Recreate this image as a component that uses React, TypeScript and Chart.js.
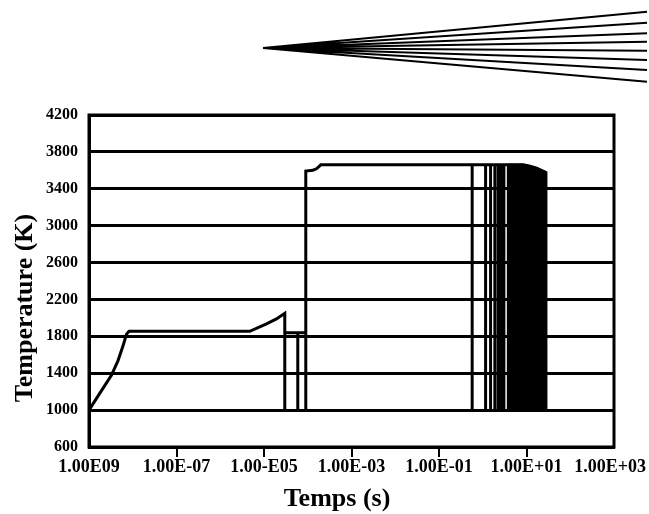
import React, { useEffect, useRef } from 'react';
import { Chart, registerables } from 'chart.js';

Chart.register(...registerables);

// ---- axis ticks ----
const xTickValues = [-9, -7, -5, -3, -1, 1, 3]; // log10(time in s)
const xTickLabels = ['1.00E09', '1.00E-07', '1.00-E05', '1.00E-03', '1.00E-01', '1.00E+01', '1.00E+03'];
const yTickValues = [600, 1000, 1400, 1800, 2200, 2600, 3000, 3400, 3800, 4200];

// ---- data (x = log10 of time in s, y = temperature in K) ----
const baseTemp = 1000;
// heating of the particle and the first plateau up to the peak
const heatLogT = [-9, -8.755, -8.488, -8.337, -8.222, -8.145, -8.085, -5.325, -4.943, -4.715, -4.525];
const heatTemp = [1000, 1181, 1377, 1537, 1697, 1821, 1855, 1855, 1935, 1989, 2049];
// quench drops with short re-heats in between
const quenchLogT = [-4.525, -4.228, -4.045];
const quenchTemp = 1840;
// ignition step
const ignitionLogT = [-4.045, -3.885, -3.793, -3.702];
const ignitionTemp = [3592, 3600, 3620, 3660];
const flameTemp = 3660;
// individual extinction / re-ignition cycles
const cycleLogT = [-0.242, 0.065, 0.179, 0.277, 0.353, 0.415, 0.483];
// dense oscillation band (top envelope)
const denseLogT = [0.545, 0.925, 1.078, 1.231, 1.444];
const denseTemp = [3660, 3660, 3646, 3624, 3578];

// decorative spray fan (end offsets of the lines)
const fanEnds = [11.7, 22.7, 33.3, 41.7, 50.7, 60, 70, 81.7];

const FONT = '"Liberation Serif", "Times New Roman", serif';

function buildMainLine() {
  const pts: { x: number; y: number }[] = [];
  heatLogT.forEach((x, i) => pts.push({ x, y: heatTemp[i] }));
  quenchLogT.forEach((q, i) => {
    pts.push({ x: q, y: baseTemp });
    if (i < quenchLogT.length - 1) {
      pts.push({ x: q, y: quenchTemp });
      pts.push({ x: quenchLogT[i + 1], y: quenchTemp });
    }
  });
  ignitionLogT.forEach((x, i) => pts.push({ x, y: ignitionTemp[i] }));
  cycleLogT.forEach((c) => {
    pts.push({ x: c, y: flameTemp });
    pts.push({ x: c, y: baseTemp });
    pts.push({ x: c, y: flameTemp });
  });
  denseLogT.forEach((x, i) => pts.push({ x, y: denseTemp[i] }));
  pts.push({ x: denseLogT[denseLogT.length - 1], y: baseTemp });
  return pts;
}

const decorPlugin = {
  id: 'decor',
  afterDraw(chart: any) {
    const { ctx, chartArea } = chart;
    const xs = chart.scales.x;
    ctx.save();
    // plot frame
    ctx.strokeStyle = '#000';
    ctx.lineWidth = 3;
    ctx.strokeRect(chartArea.left, chartArea.top, chartArea.right - chartArea.left, chartArea.bottom - chartArea.top);

    // x tick labels
    ctx.fillStyle = '#000';
    ctx.font = `bold 18px ${FONT}`;
    ctx.textAlign = 'center';
    ctx.textBaseline = 'middle';
    xTickValues.forEach((v, i) => {
      const px = xs.getPixelForValue(v);
      const w = ctx.measureText(xTickLabels[i]).width;
      const cx = Math.min(Math.max(px, w / 2 + 2), chart.width - w / 2 - 3);
      ctx.fillText(xTickLabels[i], cx, chartArea.bottom + 20);
    });

    // axis titles
    ctx.font = `bold 26px ${FONT}`;
    ctx.fillText('Temps (s)', 337, 499);
    ctx.save();
    ctx.translate(25, 308);
    ctx.rotate(-Math.PI / 2);
    ctx.fillText('Temperature (K)', 0, 0);
    ctx.restore();

    // spray fan
    ctx.lineWidth = 2;
    ctx.beginPath();
    fanEnds.forEach((ey) => {
      ctx.moveTo(263, 48);
      ctx.lineTo(647, ey);
    });
    ctx.stroke();
    ctx.restore();
  },
};

export default function App() {
  const ref = useRef<HTMLCanvasElement | null>(null);
  useEffect(() => {
    if (!ref.current) return;
    const chart = new Chart(ref.current, {
      type: 'scatter',
      data: {
        datasets: [
          {
            data: denseLogT.map((x, i) => ({ x, y: denseTemp[i] })),
            showLine: true,
            borderColor: '#000',
            backgroundColor: '#000',
            borderWidth: 2,
            pointRadius: 0,
            fill: { value: baseTemp },
          },
          {
            data: buildMainLine(),
            showLine: true,
            borderColor: '#000',
            borderWidth: 3,
            pointRadius: 0,
            fill: false,
          },
        ],
      },
      options: {
        animation: false,
        responsive: false,
        devicePixelRatio: 1,
        layout: { padding: { top: 115, right: 35, left: 0, bottom: 0 } },
        plugins: {
          legend: { display: false },
          tooltip: { enabled: false },
        },
        scales: {
          x: {
            type: 'linear',
            min: -9,
            max: 3,
            afterBuildTicks: (s: any) => {
              s.ticks = xTickValues.map((v) => ({ value: v }));
            },
            ticks: { display: false },
            grid: {
              drawOnChartArea: false,
              drawTicks: true,
              tickLength: 10,
              lineWidth: 2,
              color: (c: any) =>
                c.index === 0 || c.index === xTickValues.length - 1 ? 'rgba(0,0,0,0)' : '#000',
            },
            border: { display: true, color: '#000', width: 3 },
            afterFit: (s: any) => {
              s.height = 67;
              s.paddingLeft = 0;
              s.paddingRight = 0;
            },
          },
          y: {
            type: 'linear',
            min: 600,
            max: 4200,
            afterBuildTicks: (s: any) => {
              s.ticks = yTickValues.map((v) => ({ value: v }));
            },
            ticks: {
              color: '#000',
              padding: 11,
              font: { family: FONT, size: 16, weight: 'bold' },
              callback: (v: any) => String(v),
            },
            grid: { color: '#000', lineWidth: 3, drawTicks: false },
            border: { display: true, color: '#000', width: 3 },
            afterFit: (s: any) => {
              s.width = 89;
            },
          },
        },
      } as any,
      plugins: [decorPlugin],
    });
    return () => chart.destroy();
  }, []);
  return (
    <div style={{ position: 'absolute', left: 0, top: 0, width: 649, height: 514, background: '#fff' }}>
      <canvas ref={ref} width={649} height={514} style={{ display: 'block' }} />
    </div>
  );
}
